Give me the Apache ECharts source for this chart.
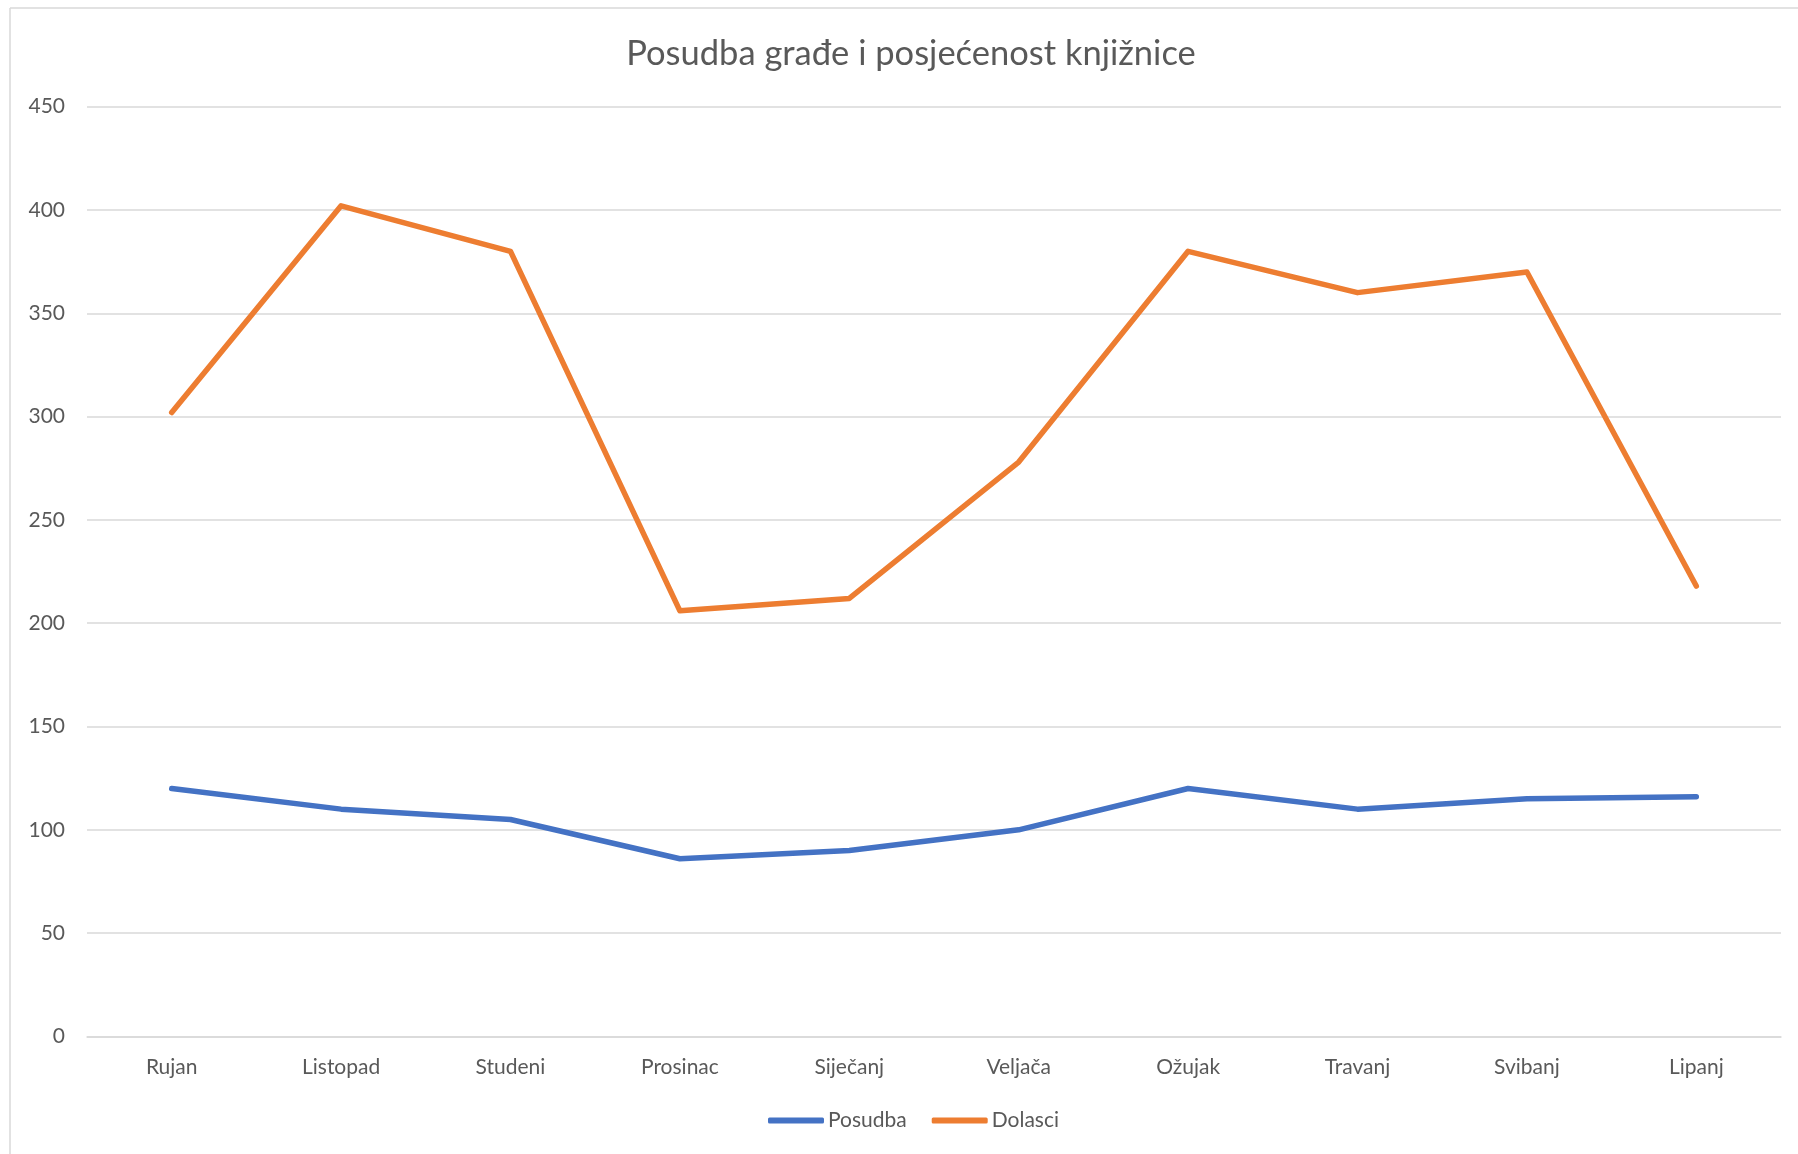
<!DOCTYPE html>
<html>
<head>
<meta charset="utf-8">
<script src="https://cdn.jsdelivr.net/npm/echarts@6/dist/echarts.min.js"></script>
<style>
html,body{margin:0;padding:0;background:#fff;}
#chart{width:1798px;height:1154px;}
</style>
</head>
<body>
<div id="chart"></div>
<script>
const categories = ['Rujan','Listopad','Studeni','Prosinac','Siječanj','Veljača','Ožujak','Travanj','Svibanj','Lipanj'];
const posudba = [120, 110, 105, 86, 90, 100, 120, 110, 115, 116];
const dolasci = [302, 402, 380, 206, 212, 278, 380, 360, 370, 218];
const yTicks = { min: 0, max: 450, interval: 50 };
const titleText = 'Posudba građe i posjećenost knjižnice';

const chart = echarts.init(document.getElementById('chart'));
const FONT = 'Lato';
const TXT = '#595959';
chart.setOption({
  backgroundColor: '#ffffff',
  animation: false,
  title: {
    text: titleText,
    left: 906,
    textAlign: 'center',
    top: 31,
    textStyle: { fontFamily: FONT, fontSize: 34.5, fontWeight: 'normal', color: TXT }
  },
  legend: {
    data: ['Posudba', 'Dolasci'],
    left: 763,
    top: 1105,
    itemWidth: 56,
    itemHeight: 6,
    itemGap: 25,
    icon: 'roundRect',
    textStyle: { fontFamily: FONT, fontSize: 21, color: TXT, padding: [0,0,0,-1] }
  },
  grid: { left: 87, right: 17, top: 106.7, bottom: 117.6, containLabel: false },
  xAxis: {
    type: 'category',
    data: categories,
    boundaryGap: true,
    axisLine: { show: true, lineStyle: { color: '#d9d9d9', width: 1.5 } },
    axisTick: { show: false },
    axisLabel: { fontFamily: FONT, fontSize: 21, color: TXT, margin: 20 }
  },
  yAxis: {
    type: 'value',
    min: yTicks.min,
    max: yTicks.max,
    interval: yTicks.interval,
    axisLine: { show: false },
    axisTick: { show: false },
    splitLine: { lineStyle: { color: '#d9d9d9', width: 1.5 } },
    axisLabel: { fontFamily: FONT, fontSize: 21, color: TXT, margin: 22 }
  },
  series: [
    {
      name: 'Posudba', type: 'line', data: posudba, symbol: 'none',
      itemStyle: { color: '#4472C4' },
      lineStyle: { color: '#4472C4', width: 5.5, cap: 'round', join: 'round' }
    },
    {
      name: 'Dolasci', type: 'line', data: dolasci, symbol: 'none',
      itemStyle: { color: '#ED7D31' },
      lineStyle: { color: '#ED7D31', width: 5.5, cap: 'round', join: 'round' }
    }
  ],
  graphic: [
    { type: 'line', shape: { x1: 10, y1: 8, x2: 1798, y2: 8 }, style: { stroke: '#d9d9d9', lineWidth: 1.5 }, silent: true },
    { type: 'line', shape: { x1: 10, y1: 8, x2: 10, y2: 1154 }, style: { stroke: '#d9d9d9', lineWidth: 1.5 }, silent: true }
  ]
});
</script>
</body>
</html>
